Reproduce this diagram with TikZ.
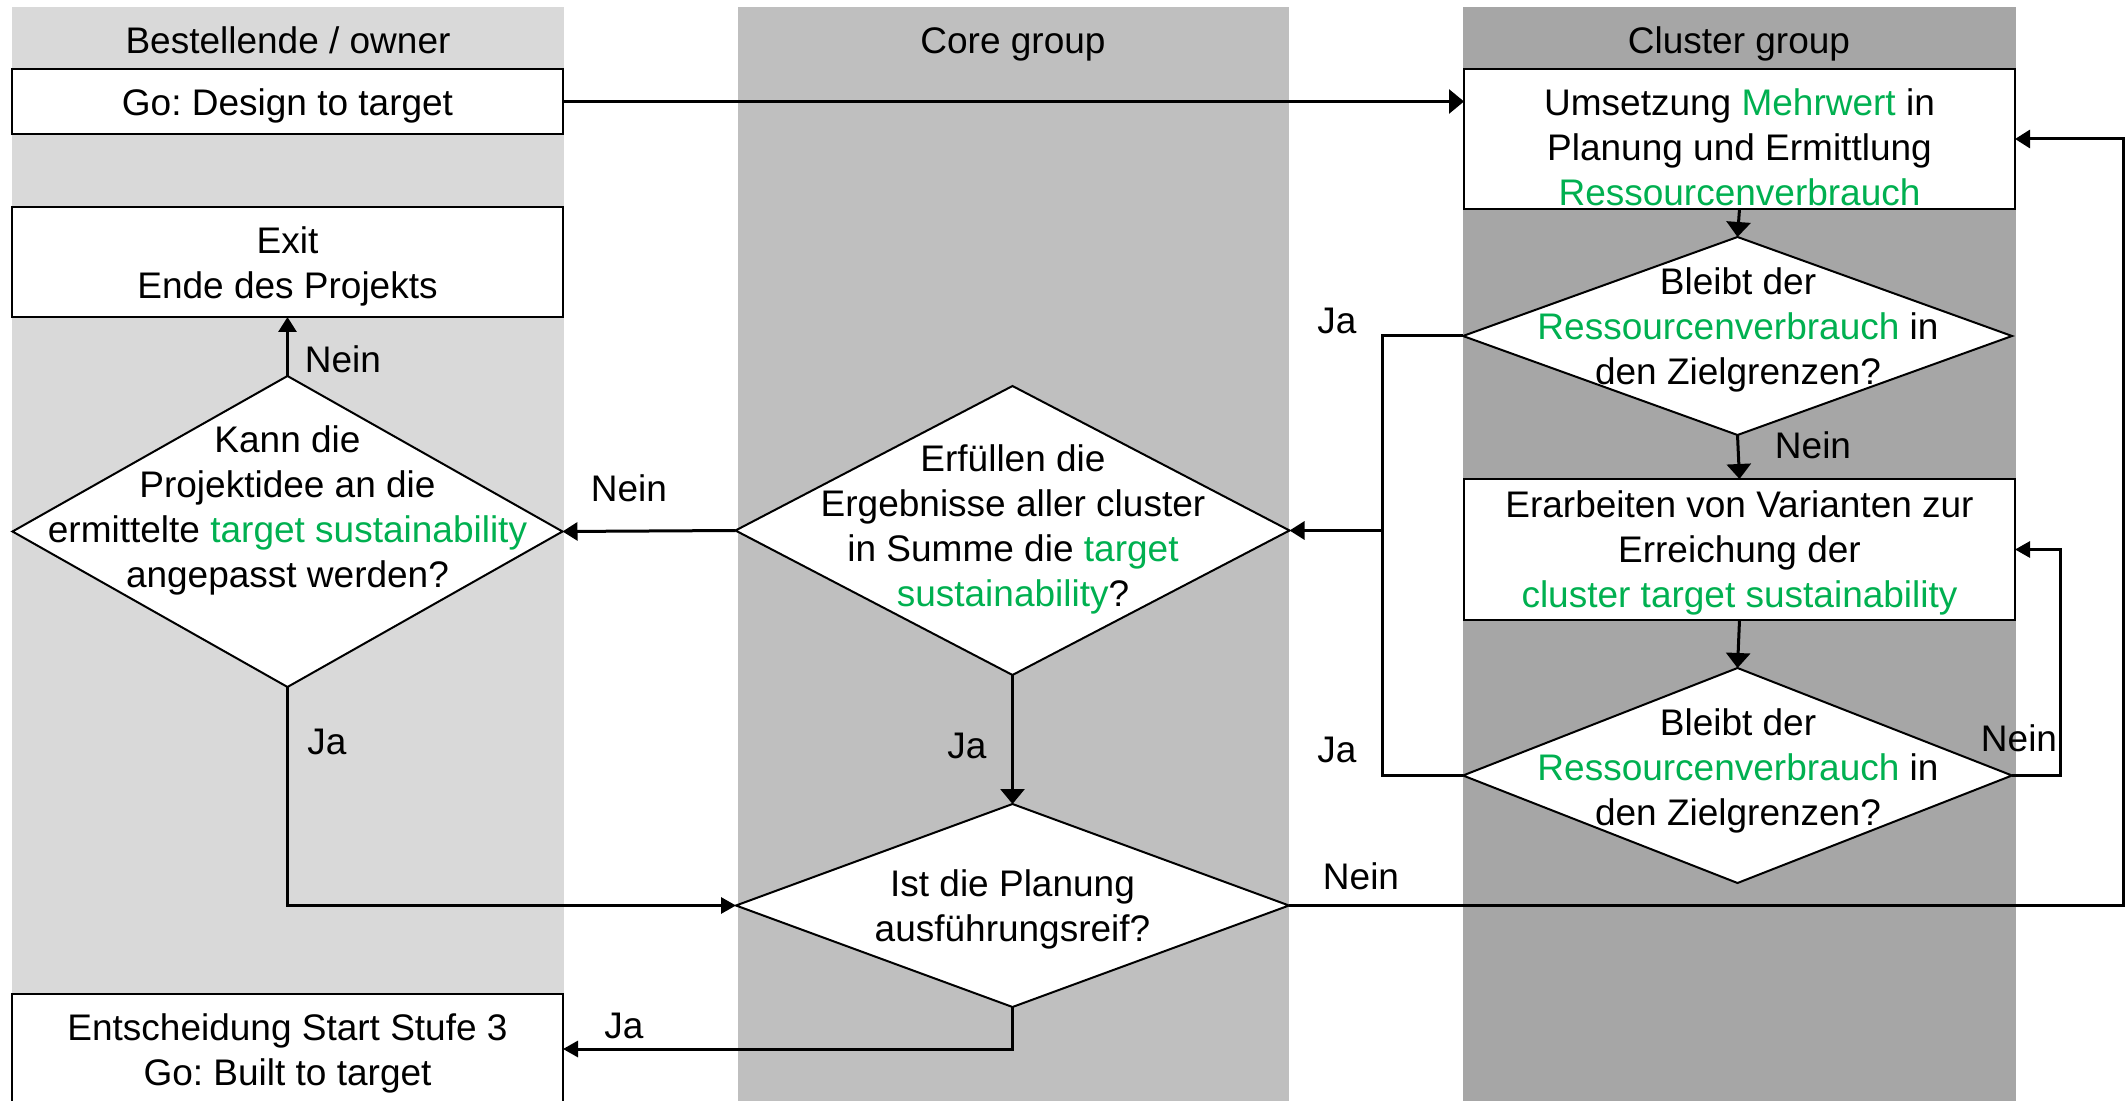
\documentclass[tikz,border=0pt]{standalone}
\usepackage{fontspec}
\setmainfont{Liberation Sans}
\usetikzlibrary{arrows.meta,shapes.geometric}
\definecolor{laneA}{HTML}{D9D9D9}
\definecolor{laneB}{HTML}{BFBFBF}
\definecolor{laneC}{HTML}{A6A6A6}
\definecolor{hl}{HTML}{00B050}
\frenchspacing
\begin{document}
\begin{tikzpicture}[x=0.5pt,y=-0.5pt,
  every node/.style={font=\fontsize{18.5}{22.5}\selectfont},
  box/.style={draw=black, fill=white, line width=1pt, rectangle,
    minimum width=275.5pt, inner sep=0pt, outer sep=0pt},
  dec/.style={draw=black, fill=white, line width=1pt, diamond,
    inner sep=0pt, outer sep=0pt},
  txt/.style={align=center, inner sep=0pt},
  head/.style={inner sep=0pt, text height=0.72em, text depth=0.21em},
  lbl/.style={inner sep=0pt},
  flow/.style={line width=1.5pt, -{Triangle[length=7.5pt,width=9pt]}},
  wideflow/.style={line width=1.5pt, -{Triangle[length=7.5pt,width=12pt]}},
  slimflow/.style={line width=1.5pt, -{Triangle[length=7.5pt,width=8pt]}},
  link/.style={line width=1.5pt},
]
\useasboundingbox (0,0) rectangle (2126,1101);
\fill[white] (0,0) rectangle (2126,1101);

% swim lanes
\fill[laneA] (12,7) rectangle (564,1101);
\fill[laneB] (738,7) rectangle (1289,1101);
\fill[laneC] (1463,7) rectangle (2016,1101);
\node[head] (hA) at (288,48) {Bestellende / owner};
\node[head] (hB) at (1013,48) {Core group};
\node[head] (hC) at (1739,48) {Cluster group};

% owner lane
\node[box, minimum height=32.5pt] (go) at (287.5,101.5) {};
\node[txt] (got) at (287.5,105.5) {Go: Design to target};
\node[box, minimum height=55pt] (exit) at (287.5,262) {};
\node[txt] (exitt) at (287.5,266.5) {Exit\\Ende des Projekts};
\node[dec, minimum width=275pt, minimum height=155.5pt] (k) at (287.5,531.5) {};
\node[txt] (kt) at (287.5,510.5) {Kann die\\Projektidee an die\\ermittelte {\color{hl}target sustainability}\\angepasst werden?};
\node[box, minimum height=55pt] (ent) at (287.5,1049) {};
\node[txt] (entt) at (287.5,1053.5) {Entscheidung Start Stufe 3\\Go: Built to target};

% core lane
\node[dec, minimum width=277pt, minimum height=144.5pt] (e) at (1012.5,530.5) {};
\node[txt] (et) at (1013,529) {Erfüllen die\\Ergebnisse aller cluster\\in Summe die {\color{hl}target}\\{\color{hl}sustainability}?};
\node[dec, minimum width=276.5pt, minimum height=101.5pt] (i) at (1012.5,905.5) {};
\node[txt] (it) at (1012.5,909) {Ist die Planung\\ausführungsreif?};

% cluster lane
\node[box, minimum height=70pt] (u) at (1739.5,139) {};
\node[txt] (ut) at (1739.5,147) {Umsetzung {\color{hl}Mehrwert} in\\Planung und Ermittlung\\{\color{hl}Ressourcenverbrauch}};
\node[dec, minimum width=274.5pt, minimum height=99pt] (b1) at (1737.5,336) {};
\node[txt] (b1t) at (1738,330) {Bleibt der\\{\color{hl}Ressourcenverbrauch} in\\den Zielgrenzen?};
\node[box, minimum height=70.5pt] (v) at (1739.5,549.5) {};
\node[txt] (vt) at (1739.5,553) {Erarbeiten von Varianten zur\\Erreichung der\\{\color{hl}cluster target sustainability}};
\node[dec, minimum width=274.5pt, minimum height=107.5pt] (b2) at (1737.5,775.5) {};
\node[txt] (b2t) at (1738,771) {Bleibt der\\{\color{hl}Ressourcenverbrauch} in\\den Zielgrenzen?};

% routing points
\coordinate (jx) at (1382,530.5);
\coordinate (nx) at (2123,905.5);

% connectors
\draw[wideflow] (go.east) -- (go.east -| u.west);
\draw[wideflow] (u.south) -- (b1.north);
\draw[wideflow] (b1.south) -- (v.north);
\draw[wideflow] (v.south) -- (b2.north);
\draw[link] (b1.west) -- (b1.west -| jx) |- (b2.west);
\draw[flow] (jx) -- (e.east);
\draw[slimflow] (b2.east) -- ++(48,0) |- (v.east);
\draw[flow] (i.east) -- (nx) |- (u.east);
\draw[flow] (e.west) -- (k.east);
\draw[flow] (k.north) -- (exit.south);
\draw[slimflow] (k.south) |- (i.west);
\draw[wideflow] (e.south) -- (i.north);
\draw[slimflow] (i.south) |- (ent.east);

% branch labels
\node[lbl] (n1) at (343,359) {Nein};
\node[lbl] (n2) at (629,488) {Nein};
\node[lbl] (j1) at (327,742) {Ja};
\node[lbl] (j2) at (967,746) {Ja};
\node[lbl] (j3) at (624,1026) {Ja};
\node[lbl] (n3) at (1361,876) {Nein};
\node[lbl] (j4) at (1337,321) {Ja};
\node[lbl] (j5) at (1337,750) {Ja};
\node[lbl] (n4) at (1813,445) {Nein};
\node[lbl] (n5) at (2019,738) {Nein};
\end{tikzpicture}
\end{document}
